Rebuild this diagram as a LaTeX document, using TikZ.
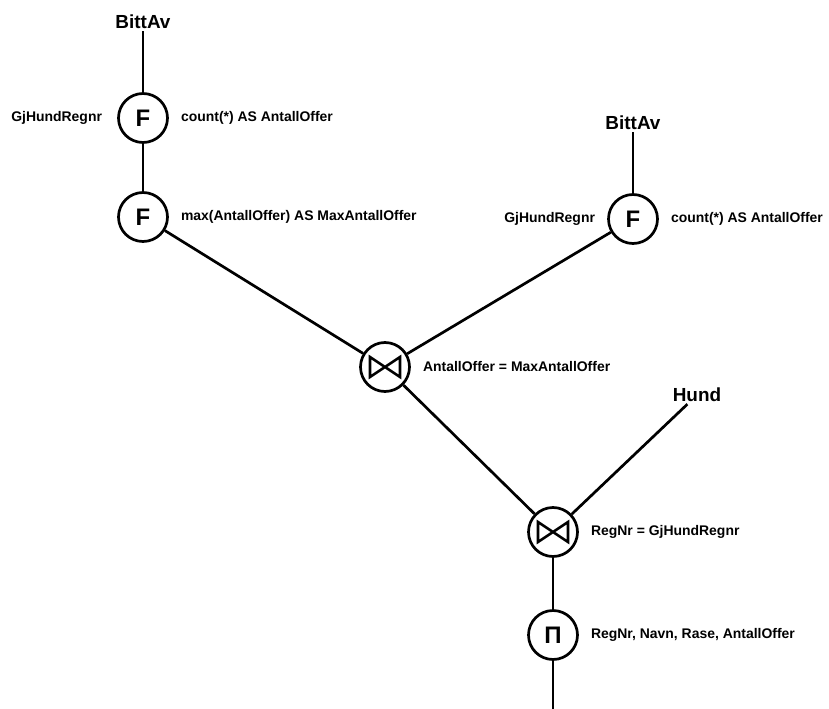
\documentclass[tikz,border=0pt]{standalone}
\usepackage{fontspec}
\setmainfont{Liberation Sans}
\usepackage{tikz}
\usetikzlibrary{positioning}

\begin{document}
\begin{tikzpicture}
[
x=1bp, y=-1bp,
op/.style={draw,circle,line width=2.7bp,minimum size=49bp,inner sep=0pt,
           font=\bfseries\fontsize{24}{24}\selectfont},
joinop/.style={op,
           path picture={
                \draw[line width=2.6bp,line join=miter]
                    ([shift={(-15bp,10bp)}]path picture bounding box.center) --
                    ([shift={(15bp,-10bp)}]path picture bounding box.center) --
                    ([shift={(15bp,10bp)}]path picture bounding box.center) --
                    ([shift={(-15bp,-10bp)}]path picture bounding box.center) -- cycle;
           }},
rel/.style={font=\bfseries\fontsize{19}{19}\selectfont,inner sep=2bp},
cond/.style={font=\bfseries\fontsize{14}{14}\selectfont,inner sep=0pt},
edge/.style={line width=2.7bp},
]
\useasboundingbox (0,0) rectangle (829,709);

%Place the nodes
\node[rel] (t1) at (143,22) {BittAv};		%left table
\node[op] (f1) at (143,118) {F};			%count per dog
\node[op] (f2) at (143,217) {F};			%max of counts
\node[rel] (t2) at (633,123) {BittAv};		%right table
\node[op] (f3) at (633,219) {F};			%count per dog
\node[joinop] (j1) at (385,367) {};		%join on max
\node[rel] (t3) at (697,395) {Hund};		%dog table
\node[joinop] (j2) at (553,532) {};		%join on regnr
\node[op] (p) at (553,635) {Π};				%projection
\coordinate (out) at (553,709);

%conditions
\node[cond,left=15bp of f1] (f1g) {GjHundRegnr};
\node[cond,right=12bp of f1] (f1c) {count(*) AS AntallOffer};
\node[cond,right=12bp of f2] (f2c) {max(AntallOffer) AS MaxAntallOffer};
\node[cond,left=12bp of f3] (f3g) {GjHundRegnr};
\node[cond,right=12bp of f3] (f3c) {count(*) AS AntallOffer};
\node[cond,right=12bp of j1] (j1c) {AntallOffer = MaxAntallOffer};
\node[cond,right=12bp of j2] (j2c) {RegNr = GjHundRegnr};
\node[cond,right=12bp of p] (pc) {RegNr, Navn, Rase, AntallOffer};

%connections
%left branch
\draw[edge] (t1) -- (f1);
\draw[edge] (f1) -- (f2);
\draw[edge] (f2) -- (j1);
%right branch
\draw[edge] (t2) -- (f3);
\draw[edge] (f3) -- (j1);
%lower part
\draw[edge] (j1) -- (j2);
\draw[edge] (t3) -- (j2);
\draw[edge] (j2) -- (p);
\draw[edge] (p) -- (out);
\end{tikzpicture}
\end{document}
